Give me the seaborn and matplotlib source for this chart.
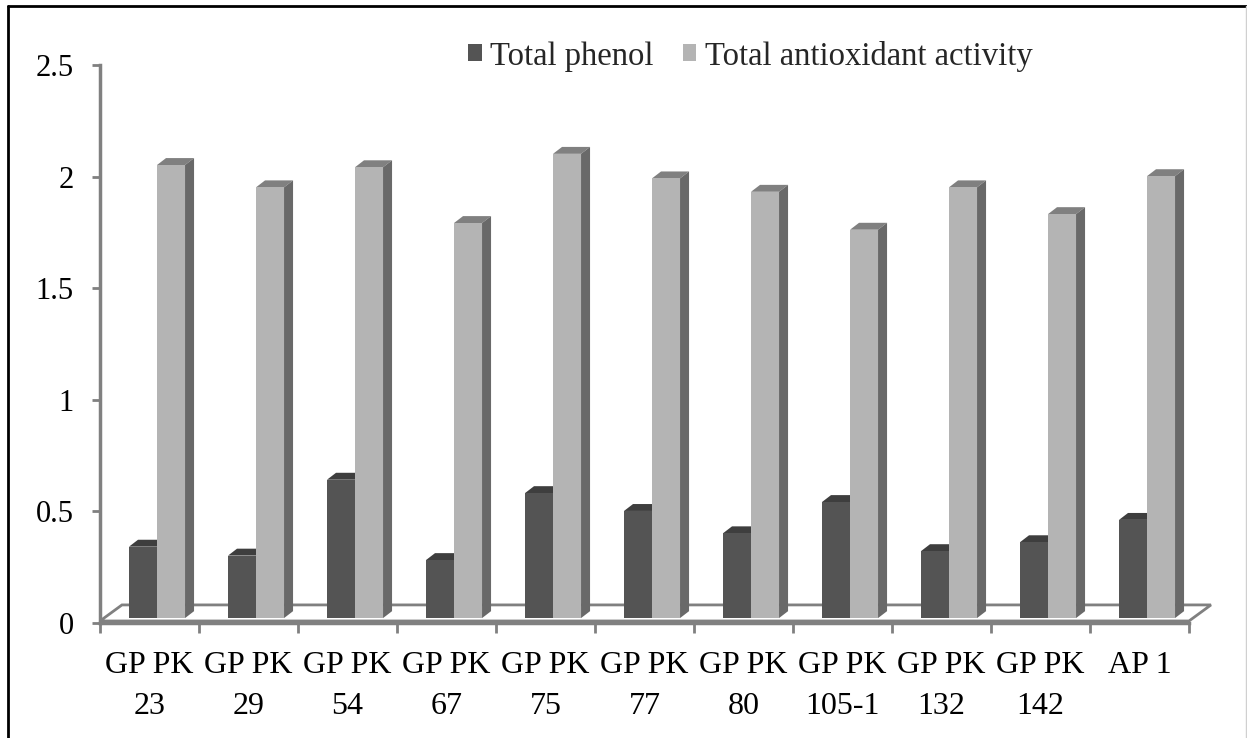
import numpy as np
import pandas as pd
import matplotlib
matplotlib.use("Agg")
import matplotlib.pyplot as plt
import seaborn as sns
from matplotlib.patches import Polygon, Rectangle
from matplotlib.lines import Line2D

# ---- data -------------------------------------------------------------
categories = ["GP PK\n23", "GP PK\n29", "GP PK\n54", "GP PK\n67", "GP PK\n75",
              "GP PK\n77", "GP PK\n80", "GP PK\n105-1", "GP PK\n132", "GP PK\n142",
              "AP 1"]
total_phenol = [0.32, 0.28, 0.62, 0.26, 0.56, 0.48, 0.38, 0.52, 0.30, 0.34, 0.44]
total_antioxidant = [2.03, 1.93, 2.02, 1.77, 2.08, 1.97, 1.91, 1.74, 1.93, 1.81, 1.98]
series_names = ["Total phenol", "Total antioxidant activity"]
y_ticks = [0, 0.5, 1, 1.5, 2, 2.5]
y_tick_labels = ["0", "0.5", "1", "1.5", "2", "2.5"]

df = pd.DataFrame({
    "genotype": categories * 2,
    "series": [series_names[0]] * len(categories) + [series_names[1]] * len(categories),
    "value": total_phenol + total_antioxidant,
})

# ---- style ------------------------------------------------------------
front_colors = ["#545454", "#b4b4b4"]
top_colors = ["#3e3e3e", "#808080"]
side_colors = ["#3a3a3a", "#696969"]
axis_gray = "#808080"

sns.set_theme(style="white")
plt.rcParams["font.family"] = ["Liberation Serif", "DejaVu Serif"]

W, H = 1247, 738
fig = plt.figure(figsize=(W / 100, H / 100), dpi=100)
ax = fig.add_axes([100 / W, (H - 623) / H, 1089 / W, 558 / H])

sns.barplot(data=df, x="genotype", y="value", hue="series", order=categories,
            hue_order=series_names, palette=front_colors, width=0.566,
            saturation=1, linewidth=0, edgecolor="none", legend=False, ax=ax)

ax.set_xlim(-0.5, len(categories) - 0.5)
ax.set_ylim(0, 2.5)

# pseudo-3D extrusion of each column
depth_dx, depth_dy = 0.091, 0.031      # receding direction (category units, value units)
shift_x, base_y = 0.076, 0.022         # columns stand mid-depth on the floor
bars = [p for p in ax.patches if isinstance(p, Rectangle)]
n = len(categories)
for idx, bar in enumerate(bars):
    s = idx // n
    x0 = bar.get_x() + shift_x
    w = bar.get_width()
    h = bar.get_height()
    bar.set_x(x0)
    bar.set_y(base_y)
    bar.set_zorder(4)
    top = base_y + h
    ax.add_patch(Polygon([(x0, top), (x0 + w, top), (x0 + w + depth_dx, top + depth_dy),
                          (x0 + depth_dx, top + depth_dy)], closed=True,
                         facecolor=top_colors[s], edgecolor="none", zorder=3))
    ax.add_patch(Polygon([(x0 + w, base_y), (x0 + w + depth_dx, base_y + depth_dy),
                          (x0 + w + depth_dx, top + depth_dy), (x0 + w, top)], closed=True,
                         facecolor=side_colors[s], edgecolor="none", zorder=3))

# floor
fdx, fdy, f0 = 0.222, 0.072, 0.009
ax.add_patch(Polygon([(-0.5, f0), (n - 0.5, f0), (n - 0.5 + fdx, f0 + fdy),
                      (-0.5 + fdx, f0 + fdy)], closed=True, facecolor="white",
                     edgecolor=axis_gray, linewidth=2, zorder=1, clip_on=False))

# axes
for side in ["top", "right"]:
    ax.spines[side].set_visible(False)
for side in ["left", "bottom"]:
    ax.spines[side].set_color(axis_gray)
    ax.spines[side].set_linewidth(2.5)
    ax.spines[side].set_zorder(5)

ax.set_yticks(y_ticks)
ax.set_yticklabels(y_tick_labels)
ax.tick_params(axis="y", direction="out", length=6, width=2, color=axis_gray,
               labelsize=22, labelcolor="black", pad=13, left=True)

ax.set_xticks(np.arange(n + 1) - 0.5)
ax.set_xticklabels([])
ax.set_xticks(np.arange(n), minor=True)
ax.set_xticklabels(categories, minor=True, fontsize=23, linespacing=1.55)
ax.tick_params(axis="x", which="major", direction="out", length=7.5, width=2,
               color=axis_gray, bottom=True)
ax.tick_params(axis="x", which="minor", length=0, pad=20, labelcolor="black")
ax.set_xlabel("")
ax.set_ylabel("")

# legend
handles = [Rectangle((0, 0), 1, 1, facecolor=c, edgecolor="none") for c in front_colors]
fig.legend(handles, series_names, loc="center", bbox_to_anchor=(0.6015, 1 - 56 / H),
           ncol=2, frameon=False, fontsize=23.5, handlelength=0.42,
           handleheight=0.42, handletextpad=0.25, columnspacing=0.9)

# chart frame
fig.add_artist(Line2D([8 / W, 1], [1 - 6 / H, 1 - 6 / H], color="black", lw=2,
                      transform=fig.transFigure))
fig.add_artist(Line2D([8 / W, 8 / W], [0, 1 - 6 / H], color="black", lw=2,
                      transform=fig.transFigure))
fig.add_artist(Line2D([1245.5 / W, 1245.5 / W], [0, 1 - 6 / H], color="#d0d0d0", lw=1,
                      transform=fig.transFigure))

fig.savefig("out.png", dpi=100, facecolor="white")
